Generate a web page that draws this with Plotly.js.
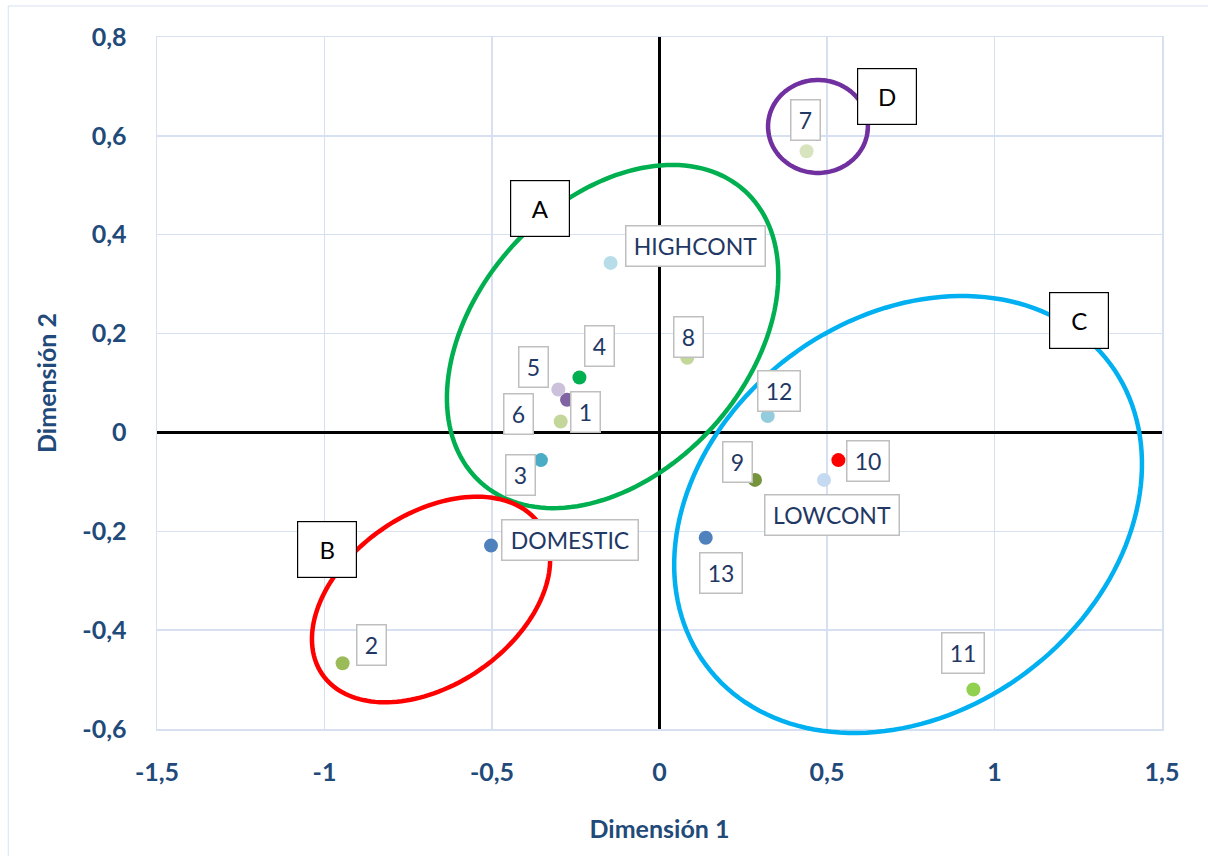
<!DOCTYPE html>
<html><head><meta charset="utf-8">
<script src="https://cdn.plot.ly/plotly-3.0.1.min.js"></script>
<style>html,body{margin:0;padding:0;background:#fff;} #chart{width:1208px;height:856px;}</style>
</head><body><div id="chart"></div>
<script>
// ---- data ----
const pointLabels = ['1','2','3','4','5','6','7','8','9','10','11','12','13','HIGHCONT','DOMESTIC','LOWCONT'];
const dim1 = [-0.276,-0.946,-0.354,-0.239,-0.302,-0.295,0.439,0.083,0.285,0.534,0.937,0.323,0.138,-0.146,-0.503,0.491];
const dim2 = [0.066,-0.467,-0.056,0.111,0.087,0.022,0.569,0.151,-0.096,-0.056,-0.520,0.033,-0.213,0.343,-0.229,-0.096];
const pointColors = ['#8064a2','#9bbb59','#4bacc6','#00b050','#ccc0da','#c4d79b','#d7e4bd','#c4d79b','#77933c','#ff0000','#92d050','#93cddd','#4f81bd','#b7dee8','#4f81bd','#c5d9f1'];
const xTickVals = [-1.5,-1,-0.5,0,0.5,1,1.5];
const xTickText = ['-1,5','-1','-0,5','0','0,5','1','1,5'];
const yTickVals = [-0.6,-0.4,-0.2,0,0.2,0.4,0.6,0.8];
const yTickText = ['-0,6','-0,4','-0,2','0','0,2','0,4','0,6','0,8'];
const groupNames = ['A','B','C','D'];
const groupColors = ['#00b050','#ff0000','#00b0f0','#7030a0'];

// ---- style / placement ----
const xRange = [-1.5,1.5];
const yRange = [-0.6,0.8];
const labelShift = [[18,-12],[29,18],[-20,-15],[20,32],[-25,22],[-42,8],[-1,31],[1,21],[-17,18],[30,-1],[-10,36],[11,25],[15,-35],[85,17],[79,6],[8,-35]];
const groupEllipses = [
  {c:[-0.140,0.194], u:[0.394,0.295], v:[0.299,-0.183]},
  {c:[-0.682,-0.338], u:[0.325,0.151], v:[0.144,-0.143]},
  {c:[0.742,-0.166], u:[0.603,0.305], v:[0.352,-0.320]},
  {c:[0.473,0.619], u:[0.149,0], v:[0,0.094]}
];
const groupBoxPos = [[-0.357,0.454],[-0.993,-0.236],[1.251,0.226],[0.680,0.679]];

// ellipse drawn in paper space (not clipped at the plot edge, as in the original)
function ellipsePath(e){
  let s='';
  const n=160;
  for(let i=0;i<=n;i++){
    const t=2*Math.PI*i/n;
    const x=e.c[0]+e.u[0]*Math.cos(t)+e.v[0]*Math.sin(t);
    const y=e.c[1]+e.u[1]*Math.cos(t)+e.v[1]*Math.sin(t);
    const px=(x-xRange[0])/(xRange[1]-xRange[0]);
    const py=(y-yRange[0])/(yRange[1]-yRange[0]);
    s+=(i===0?'M':'L')+px.toFixed(5)+','+py.toFixed(5);
  }
  return s+'Z';
}

const FONT = 'Lato, "Open Sans", sans-serif';
const trace = {
  type:'scatter', mode:'markers', x:dim1, y:dim2,
  marker:{size:14, color:pointColors},
  hoverinfo:'text', text:pointLabels, showlegend:false, cliponaxis:false
};

const shapes = [
  {type:'rect', xref:'paper', yref:'paper', x0:-0.148, x1:1.2, y0:-0.4, y1:1.0448, line:{color:'#d5e1f2', width:1}, layer:'below'}
];
groupEllipses.forEach((e,i)=>{
  shapes.push({type:'path', xref:'paper', yref:'paper', path:ellipsePath(e), line:{color:groupColors[i], width:4.5}, layer:'above'});
});

const annotations = [];
pointLabels.forEach((t,i)=>{
  const w = t.length===1 ? 28 : (t.length===2 ? 41 : (t==='HIGHCONT'?138:(t==='DOMESTIC'?135:133)));
  annotations.push({x:dim1[i], y:dim2[i], xref:'x', yref:'y', text:t, showarrow:false,
    xshift:labelShift[i][0], yshift:labelShift[i][1],
    font:{family:FONT, size:23, color:'#1f3864'},
    bgcolor:'#ffffff', bordercolor:'#bfbfbf', borderwidth:1.5, borderpad:0,
    width:w, height:39, align:'center', valign:'middle'});
});
groupNames.forEach((g,i)=>{
  annotations.push({x:groupBoxPos[i][0], y:groupBoxPos[i][1], xref:'x', yref:'y', text:g, showarrow:false,
    font:{family:FONT, size:24, color:'#000000'},
    bgcolor:'#ffffff', bordercolor:'#000000', borderwidth:1.2, borderpad:0,
    width:58, height:55, align:'center', valign:'middle'});
});

const axisCommon = {
  showgrid:true, gridcolor:'#d6e0f0', gridwidth:1.5,
  zeroline:true, zerolinecolor:'#000000', zerolinewidth:3,
  showline:true, mirror:true, linecolor:'#d6e0f0', linewidth:1.5,
  ticks:'', tickmode:'array',
  tickfont:{family:FONT, size:25, color:'#1f4a7a', weight:'bold'},
  fixedrange:true
};
const layout = {
  width:1208, height:856,
  margin:{l:157, r:46, t:37, b:127, autoexpand:false},
  paper_bgcolor:'#ffffff', plot_bgcolor:'#ffffff',
  xaxis:Object.assign({}, axisCommon, {range:xRange, tickvals:xTickVals, ticktext:xTickText, ticklabelstandoff:20,
    title:{text:'Dimensión 1', font:{family:FONT, size:25, color:'#1f4a7a', weight:'bold'}, standoff:36}}),
  yaxis:Object.assign({}, axisCommon, {range:yRange, tickvals:yTickVals, ticktext:yTickText, ticklabelstandoff:24,
    title:{text:'Dimensión 2', font:{family:FONT, size:25, color:'#1f4a7a', weight:'bold'}, standoff:18}}),
  shapes:shapes, annotations:annotations, showlegend:false
};
Plotly.newPlot('chart',[trace],layout,{displayModeBar:false, staticPlot:true});
</script></body></html>
